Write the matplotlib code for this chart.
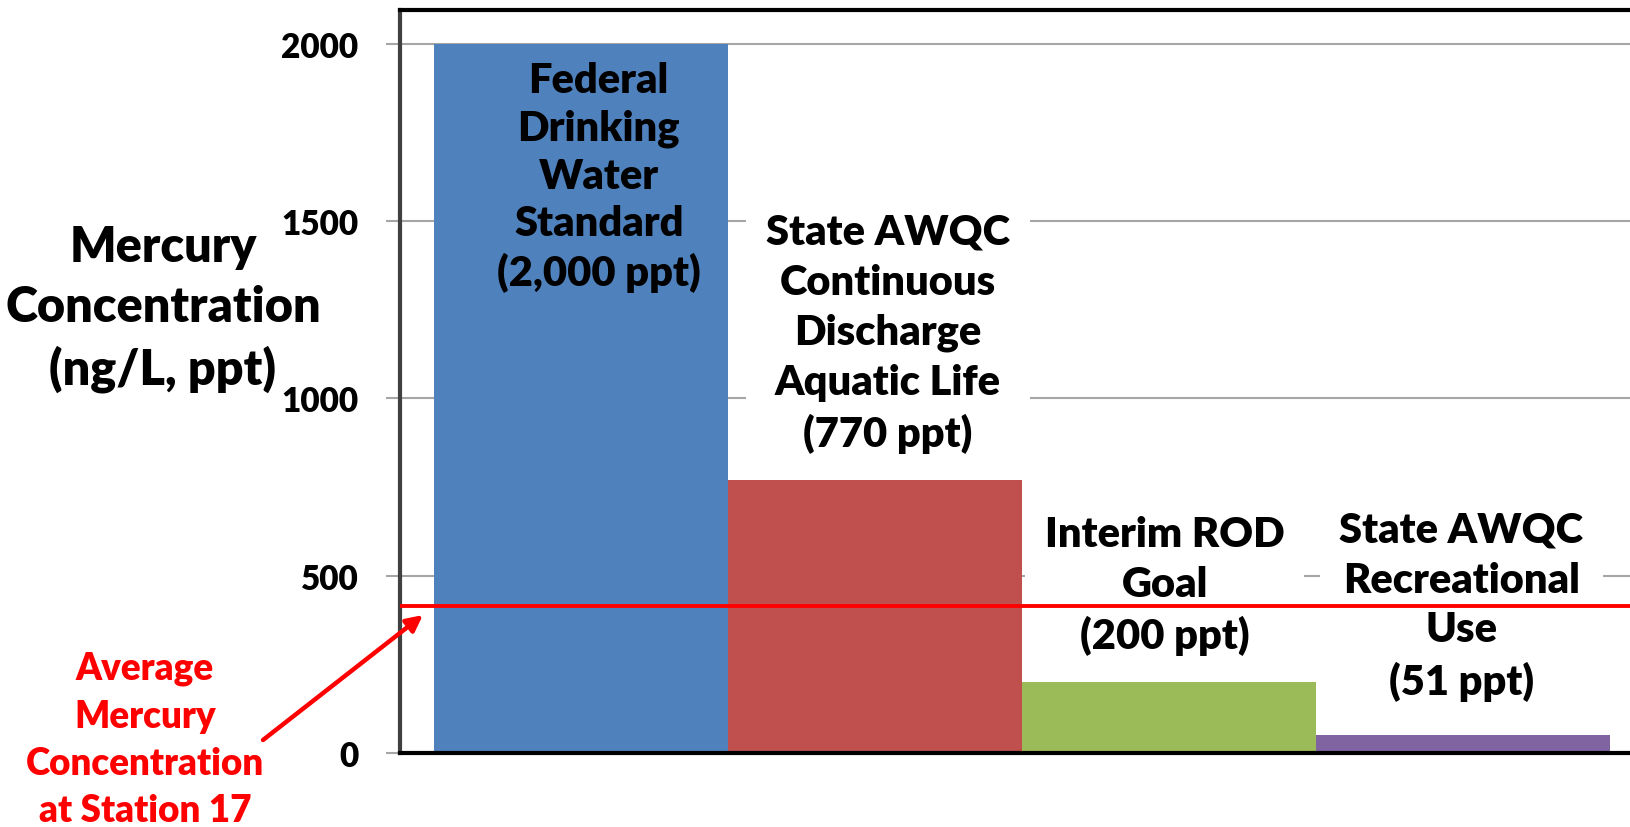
import matplotlib
matplotlib.use("Agg")
import matplotlib.pyplot as plt

categories = ["Federal\nDrinking\nWater\nStandard\n(2,000 ppt)",
              "State AWQC\nContinuous\nDischarge\nAquatic Life\n(770 ppt)",
              "Interim ROD\nGoal\n(200 ppt)",
              "State AWQC\nRecreational\nUse\n(51 ppt)"]
values = [2000, 770, 200, 51]
colors = ["#4F81BD", "#C0504D", "#9BBB59", "#8064A2"]
yticks = [0, 500, 1000, 1500, 2000]
station17_avg = 415
ylabel_lines = ["Mercury", "Concentration", "(ng/L, ppt)"]
note_text = "Average\nMercury\nConcentration\nat Station 17"

plt.rcParams['font.family'] = ['Lato', 'DejaVu Sans']
plt.rcParams['font.weight'] = 'bold'
WT = 'heavy'

W, H = 1631, 828
fig = plt.figure(figsize=(W / 100, H / 100), dpi=100)
ax = fig.add_axes([400 / W, 74 / H, 1244 / W, 743 / H])

x = list(range(len(values)))
ax.bar(x, values, width=1.0, color=colors, zorder=2)
ax.set_xlim(-0.616, 3.616)
ax.set_ylim(0, 2095)
ax.set_yticks(yticks)
ax.set_yticklabels([str(v) for v in yticks], fontsize=24, fontweight=WT)
ax.set_xticks([])
ax.yaxis.grid(True, color="#A6A6A6", linewidth=1.5, zorder=0)
ax.set_axisbelow(True)
ax.tick_params(axis='y', length=10, width=1.5, color="#A6A6A6", pad=20)

for side in ['top', 'bottom']:
    ax.spines[side].set_linewidth(3)
    ax.spines[side].set_color('black')
ax.spines['left'].set_linewidth(3)
ax.spines['left'].set_color('#404040')
ax.spines['right'].set_visible(False)

# bar labels
dx = [0.06, 0.044, -0.014, -0.005]
offsets = [None, 75, 75, 95]
for i, (lab, v) in enumerate(zip(categories, values)):
    if i == 0:
        ax.text(i + dx[i], v - 50, lab, ha='center', va='top', fontsize=30,
                fontweight=WT, linespacing=1.3, zorder=3)
    else:
        ax.text(i + dx[i], v + offsets[i], lab, ha='center', va='bottom',
                fontsize=30, fontweight=WT, linespacing=1.38, zorder=3,
                bbox=dict(facecolor='white', edgecolor='none', pad=14))

ax.axhline(station17_avg, color='#FF0000', linewidth=2.8, zorder=5)

# y-axis title, one line per text
for line, ypix in zip(ylabel_lines, [247.5, 308, 369]):
    fig.text(163 / W, 1 - ypix / H, line, ha='center', va='center',
             fontsize=35, fontweight=WT)

fig.text(145 / W, 1 - 740 / H, note_text,
         ha='center', va='center', fontsize=26.5, fontweight=WT,
         color='#FF0000', linespacing=1.48)

ax.annotate("", xy=(-0.538, 389), xycoords='data',
            xytext=(263, 828 - 741), textcoords='figure pixels',
            annotation_clip=False,
            arrowprops=dict(arrowstyle='-|>', color='#FF0000', lw=3.2,
                            mutation_scale=24, shrinkA=0, shrinkB=0))

fig.savefig("out.png", dpi=100)
